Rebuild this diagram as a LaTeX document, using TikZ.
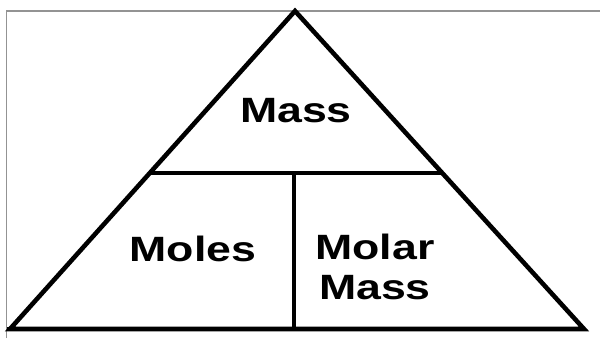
\documentclass[tikz,border=0pt]{standalone}
\usepackage{fontspec}
\newfontfamily\lblfont[FakeStretch=1.27]{Liberation Sans}
\usepackage{tikz}
\usetikzlibrary{positioning,calc}

\begin{document}
\begin{tikzpicture}[x=0.03cm,y=-0.03cm,
        edge/.style={line width=3.9pt,line join=miter},
        lbl/.style={font=\lblfont\bfseries\fontsize{30}{34}\selectfont,inner sep=0pt,align=center}]
    \useasboundingbox (0,0) rectangle (600,338);
    % grey frame
    \draw[gray!85,line width=1.3pt] (6.5,338) -- (6.5,11) -- (600,11);
    \coordinate (top) at (295,11);
    \coordinate (bl) at (10,329);
    \coordinate (br) at (584,329);
    \coordinate (ml) at ($(bl)!0.4906!(top)$);
    \coordinate (mr) at ($(br)!0.4906!(top)$);
    \coordinate (vt) at (294,173);
    \coordinate (vb) at (294,329);
    \draw[edge] (bl) -- (top) -- (br) -- cycle;
    \draw[edge] (7,329) -- (bl);
    \draw[edge] (ml) -- (mr);
    \draw[edge] (vt) -- (vb);
    \node[lbl] (mass) at (296,110.5) {Mass};
    \node[lbl] (moles) at (193,249) {Moles};
    \node[lbl] (molar) at (375,267) {Molar\\Mass};
\end{tikzpicture}
\end{document}
